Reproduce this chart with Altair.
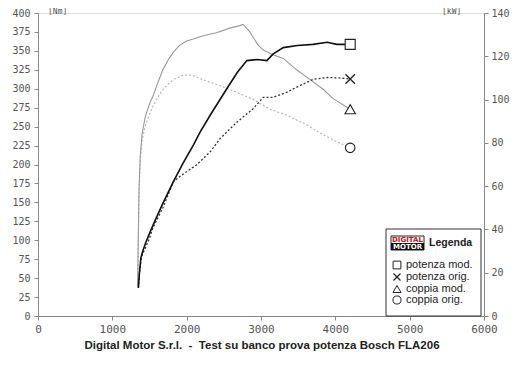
import altair as alt
import pandas as pd

# ---- data ----
rpm_pm = [1350, 1365, 1385, 1410, 1450, 1510, 1600, 1680, 1820, 1950, 2090, 2180, 2320, 2540,
          2680, 2810, 2950, 3080, 3160, 3300, 3490, 3700, 3890, 4020, 4200]
kw_pm = [13, 20, 27, 30, 34, 39, 46, 52, 62, 70.5, 79, 85, 93, 105,
         112.5, 118, 118.5, 118, 121, 124, 125, 125.5, 126.5, 125.5, 125.5]

rpm_po = [1350, 1365, 1385, 1410, 1440, 1500, 1550, 1680, 1820, 1950, 2140, 2320, 2450, 2540,
          2680, 2890, 3030, 3160, 3350, 3530, 3700, 3890, 4050, 4200]
kw_po = [13, 20, 26, 29, 31, 36, 41, 50, 62, 65.5, 70, 76, 82, 85,
         89.7, 95.6, 101, 101, 103.4, 106.6, 109.3, 110.2, 110, 109.5]

rpm_cm = [1340, 1350, 1360, 1375, 1400, 1440, 1500, 1550, 1620, 1680, 1750, 1820, 1900, 2000,
          2100, 2220, 2400, 2580, 2700, 2760, 2850, 2900, 2960, 3030, 3160, 3300, 3480, 3660,
          3840, 3970, 4200]
nm_cm = [40, 110, 170, 210, 240, 262, 280, 291, 310, 325, 338, 348, 357, 363,
         366, 370, 374, 380, 383, 385, 375, 367, 358, 351, 345, 340, 325, 312,
         299, 287, 273]

rpm_co = [1345, 1350, 1360, 1375, 1400, 1440, 1500, 1550, 1620, 1680, 1750, 1820, 1950, 2070,
          2220, 2450, 2680, 2890, 3120, 3350, 3620, 3840, 4020, 4200]
nm_co = [40, 100, 160, 205, 232, 250, 266, 278, 290, 299, 306, 312, 318, 318,
         312, 304, 295, 286, 273, 265, 252, 239, 230, 222]

legend_labels = ["potenza mod.", "potenza orig.", "coppia mod.", "coppia orig."]
x_ticks = [0, 1000, 2000, 3000, 4000, 5000, 6000]
nm_ticks = list(range(0, 401, 25))
kw_ticks = list(range(0, 141, 20))
title_text = "Digital Motor S.r.l.\u00a0 -\u00a0 Test su banco prova potenza Bosch FLA206"

df_pm = pd.DataFrame({"rpm": rpm_pm, "kw": kw_pm})
df_po = pd.DataFrame({"rpm": rpm_po, "kw": kw_po})
df_cm = pd.DataFrame({"rpm": rpm_cm, "nm": nm_cm})
df_co = pd.DataFrame({"rpm": rpm_co, "nm": nm_co})

MONO = "DejaVu Sans Mono"
AX_COL = "#888888"
LAB_COL = "#555555"

X = alt.X("rpm:Q", scale=alt.Scale(domain=[0, 6000], nice=False),
          axis=alt.Axis(values=x_ticks, format="d", title=None, grid=False,
                        labelFont=MONO, labelFontSize=11, labelColor=LAB_COL,
                        domainColor=AX_COL, tickColor=AX_COL, tickSize=4,
                        labelPadding=3, labelFlush=False))

Y_NM = alt.Y("nm:Q", scale=alt.Scale(domain=[0, 400], nice=False),
             axis=alt.Axis(values=nm_ticks, orient="left", title=None, grid=False,
                           labelFont=MONO, labelFontSize=10, labelColor=LAB_COL,
                           domainColor=AX_COL, tickColor=AX_COL, tickSize=4,
                           labelPadding=4))
Y_KW = alt.Y("kw:Q", scale=alt.Scale(domain=[0, 140], nice=False),
             axis=alt.Axis(values=kw_ticks, orient="right", title=None, grid=False,
                           labelFont=MONO, labelFontSize=10, labelColor=LAB_COL,
                           domainColor=AX_COL, tickColor=AX_COL, tickSize=4,
                           labelPadding=3))

XPATH = "M-1,-1L1,1M-1,1L1,-1"


def line(df, y, color, width, dash=None):
    kw = dict(color=color, strokeWidth=width, clip=False)
    if dash:
        kw["strokeDash"] = dash
    return alt.Chart(df).mark_line(**kw).encode(x=X, y=y)


def marker(df, y, shape, size):
    return alt.Chart(df.tail(1)).mark_point(
        shape=shape, size=size, filled=True, fill="white", stroke="#222222",
        strokeWidth=1.1, opacity=1).encode(x=X, y=y)


torque = alt.layer(
    line(df_co, Y_NM, "#b8b8b8", 1.2, [2, 2]),
    line(df_cm, Y_NM, "#999999", 1.1),
    marker(df_cm, Y_NM, "triangle-up", 110),
    marker(df_co, Y_NM, "circle", 90),
)
power = alt.layer(
    line(df_po, Y_KW, "#333333", 1.3, [2, 2]),
    line(df_pm, Y_KW, "#111111", 1.6),
    marker(df_pm, Y_KW, "square", 100),
    alt.Chart(df_po.tail(1)).mark_point(shape=XPATH, size=90, stroke="#222222",
                                        strokeWidth=1.3, filled=False, opacity=1)
    .encode(x=X, y=Y_KW),
)

one = pd.DataFrame({"a": [0]})


def txt(s, x, y, size=10, font="Liberation Sans", weight="normal", color="#222222",
        align="left"):
    return alt.Chart(one).mark_text(text=s, fontSize=size, font=font, fontWeight=weight,
                                    color=color, align=align, baseline="middle").encode(
        x=alt.value(x), y=alt.value(y))


def rect(x, x2, y, y2, fill, stroke=None):
    kw = dict(fill=fill)
    if stroke:
        kw["stroke"] = stroke
        kw["strokeWidth"] = 1
    return alt.Chart(one).mark_rect(**kw).encode(
        x=alt.value(x), x2=alt.value(x2), y=alt.value(y), y2=alt.value(y2))


def sym(shape, x, y, size, filled=True):
    if filled:
        m = alt.Chart(one).mark_point(shape=shape, size=size, filled=True, fill="white",
                                      stroke="#222222", strokeWidth=1, opacity=1)
    else:
        m = alt.Chart(one).mark_point(shape=shape, size=size, filled=False,
                                      stroke="#222222", strokeWidth=1.2, opacity=1)
    return m.encode(x=alt.value(x), y=alt.value(y))


row_y = [252, 264, 276, 287]
legend = [
    rect(348, 443, 216, 303, "white", "#333333"),
    rect(353, 386, 223, 237, "white", "#222222"),
    rect(353, 386, 230, 237, "#111111"),
    txt("DIGITAL", 369.5, 226.5, size=7, font="DejaVu Sans", weight="bold",
        color="#cc1111", align="center"),
    txt("MOTOR", 369.5, 233.5, size=7, font="DejaVu Sans", weight="bold",
        color="white", align="center"),
    txt("Legenda", 391, 230, size=10.5, weight="bold", color="#222222"),
    sym("square", 359, row_y[0], 60),
    sym(XPATH, 359, row_y[1], 50, filled=False),
    sym("triangle-up", 359, row_y[2], 65),
    sym("circle", 359, row_y[3], 65),
]
for lab, yy in zip(legend_labels, row_y):
    legend.append(txt(lab, 368, yy, size=11, color="#222222"))

annot = [
    txt("[Nm]", 10, -1, size=8, font=MONO, color=LAB_COL),
    txt("[kW]", 404, -1, size=8, font=MONO, color=LAB_COL),
    txt(title_text, 224, 333, size=11.5, weight="bold", color="#222222", align="center"),
]

chart = alt.layer(torque, power, *legend, *annot).resolve_scale(y="independent").properties(
    width=446, height=303,
    autosize=alt.AutoSizeParams(type="none"),
    padding={"left": 30, "top": 5, "right": 28, "bottom": 50},
).configure_view(stroke=None).configure(background="white")

chart.save("out.html", embed_options={"renderer": "svg", "actions": False})
